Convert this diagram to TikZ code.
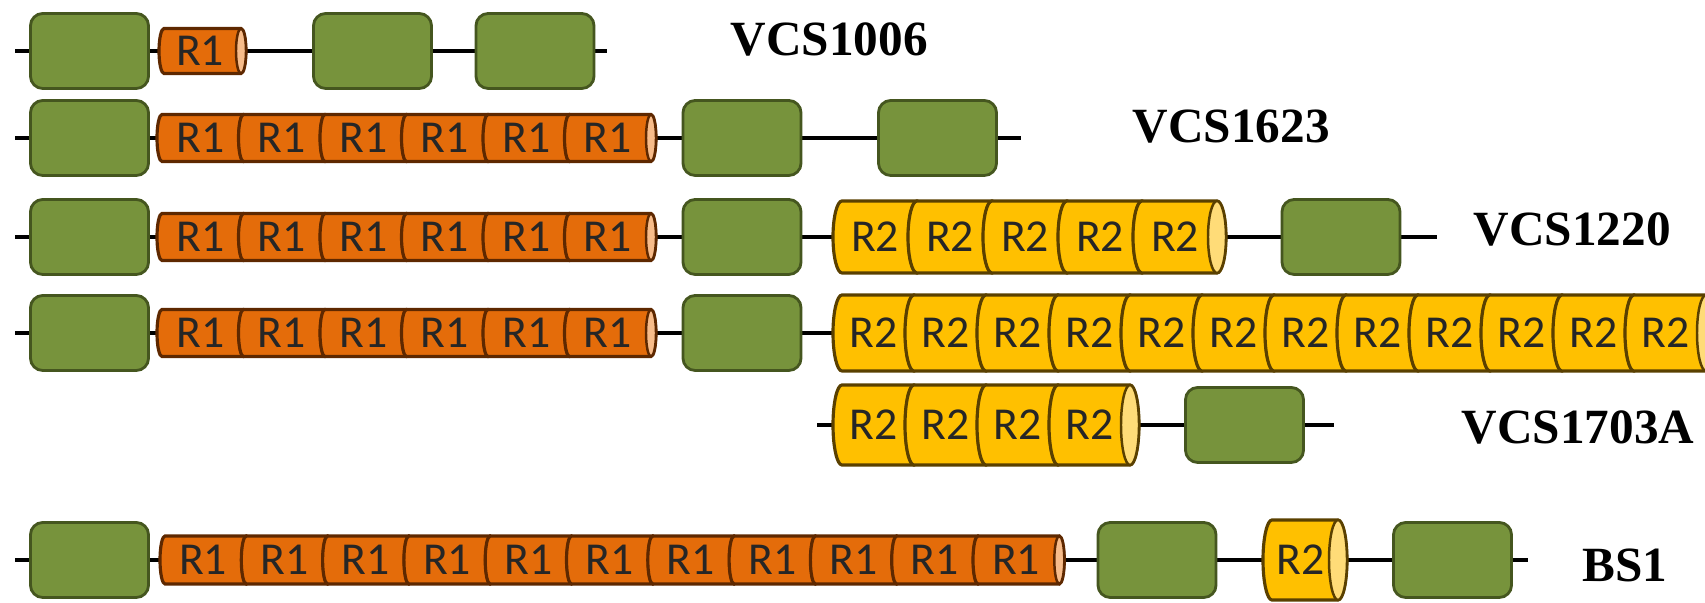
\documentclass[tikz,border=0pt]{standalone}
\usepackage{fontspec}
\setmainfont{Liberation Serif}
\newfontfamily\calfont{Carlito}
\usetikzlibrary{positioning}

\definecolor{exongreen}{HTML}{77933C}
\definecolor{exonedge}{HTML}{45561F}
\definecolor{ronefill}{HTML}{E46C0A}
\definecolor{roneedge}{HTML}{5E2800}
\definecolor{ronelight}{HTML}{F7BC8A}
\definecolor{rtwofill}{HTML}{FFC000}
\definecolor{rtwoedge}{HTML}{5A4000}
\definecolor{rtwolight}{HTML}{FFDC78}

\tikzset{
  exon/.style={draw=exonedge, fill=exongreen, line width=0.8pt, rounded corners=3.5pt,
    minimum width=1.18cm, minimum height=0.75cm, inner sep=0pt},
  backbone/.style={line width=1pt, black},
  rone/.style={draw=roneedge, fill=ronefill, line width=0.9pt},
  ronecap/.style={draw=roneedge, fill=ronelight, line width=0.7pt},
  rtwo/.style={draw=rtwoedge, fill=rtwofill, line width=0.9pt},
  rtwocap/.style={draw=rtwoedge, fill=rtwolight, line width=0.7pt},
  rlabel/.style={font=\calfont\fontsize{13}{13}\selectfont, inner sep=0pt, text=black!85},
  seqname/.style={font=\bfseries\fontsize{14}{14}\selectfont, anchor=west, inner sep=0pt}
}

% one repeat unit, lying on its side with its end cap to the right
% #1 style, #2 left x, #3 length, #4 half height, #5 cap radius, #6 name, #7 text
\newcommand{\repunit}[7]{%
  \draw[#1] ({#2+#5},#4) -- ({#2+#3-#5},#4)
    arc[start angle=90, end angle=-90, x radius=#5, y radius=#4]
    -- ({#2+#5},-#4)
    arc[start angle=270, end angle=90, x radius=#5, y radius=#4] -- cycle;
  \draw[#1cap] ({#2+#3-#5},0) ellipse[x radius=#5, y radius=#4];
  \node[rlabel] (#6) at ({#2+#3/2-#5/2},0) {#7};
}

\begin{document}
\begin{tikzpicture}[x=0.01cm, y=0.01cm]
  \useasboundingbox (0,0) rectangle (1705,603);

  % VCS1006
  \begin{scope}[shift={(0,552)}]
    \coordinate (va-s) at (15,0);
    \coordinate (va-t) at (607,0);
    \draw[backbone] (va-s) -- (va-t);
    \node[exon] (va-e1) at (89.5,0) {};
    \repunit{rone}{159}{87}{22.5}{5}{va-r0}{R1}
    \node[exon] (va-e2) at (372.5,0) {};
    \node[exon] (va-e3) at (535,0) {};
    \node[seqname] (va-name) at (730,11) {VCS1006};
  \end{scope}

  % VCS1623
  \begin{scope}[shift={(0,465)}]
    \coordinate (vb-s) at (15,0);
    \coordinate (vb-t) at (1021,0);
    \draw[backbone] (vb-s) -- (vb-t);
    \node[exon] (vb-e1) at (89.5,0) {};
    \foreach \i in {0,...,5}
      \repunit{rone}{157+\i*81.5}{91.5}{23.5}{5}{vb-r\i}{R1};
    \node[exon] (vb-e2) at (742,0) {};
    \node[exon] (vb-e3) at (937.5,0) {};
    \node[seqname] (vb-name) at (1132,11) {VCS1623};
  \end{scope}

  % VCS1220
  \begin{scope}[shift={(0,366)}]
    \coordinate (vc-s) at (15,0);
    \coordinate (vc-t) at (1437,0);
    \draw[backbone] (vc-s) -- (vc-t);
    \node[exon] (vc-e1) at (89.5,0) {};
    \foreach \i in {0,...,5}
      \repunit{rone}{157+\i*81.5}{91.5}{23.5}{5}{vc-r\i}{R1};
    \node[exon] (vc-e2) at (742,0) {};
    \foreach \i in {0,...,4}
      \repunit{rtwo}{833+\i*75}{93}{36}{9}{vc-q\i}{R2};
    \node[exon] (vc-e3) at (1341,0) {};
    \node[seqname] (vc-name) at (1473,7) {VCS1220};
  \end{scope}

  % VCS1703A, first part
  \begin{scope}[shift={(0,270)}]
    \coordinate (vd-s) at (15,0);
    \coordinate (vd-t) at (833,0);
    \draw[backbone] (vd-s) -- (vd-t);
    \node[exon] (vd-e1) at (89.5,0) {};
    \foreach \i in {0,...,5}
      \repunit{rone}{157+\i*81.5}{91.5}{23.5}{5}{vd-r\i}{R1};
    \node[exon] (vd-e2) at (742,0) {};
    \foreach \i in {0,...,11}
      \repunit{rtwo}{833+\i*72}{90}{38}{9}{vd-q\i}{R2};
  \end{scope}

  % VCS1703A, second part
  \begin{scope}[shift={(0,178)}]
    \coordinate (ve-s) at (817,0);
    \coordinate (ve-t) at (1334,0);
    \draw[backbone] (ve-s) -- (ve-t);
    \foreach \i in {0,...,3}
      \repunit{rtwo}{833+\i*72}{90}{40}{9}{ve-q\i}{R2};
    \node[exon] (ve-e1) at (1244.5,0) {};
    \node[seqname] (ve-name) at (1461,-3) {VCS1703A};
  \end{scope}

  % BS1
  \begin{scope}[shift={(0,43)}]
    \coordinate (bs-s) at (15,0);
    \coordinate (bs-t) at (1528,0);
    \draw[backbone] (bs-s) -- (bs-t);
    \node[exon] (bs-e1) at (89.5,0) {};
    \foreach \i in {0,...,10}
      \repunit{rone}{160+\i*81.3}{91.3}{24}{5}{bs-r\i}{R1};
    \node[exon] (bs-e2) at (1157,0) {};
    \repunit{rtwo}{1263}{84}{40}{9}{bs-q0}{R2}
    \node[exon] (bs-e3) at (1452.5,0) {};
    \node[seqname] (bs-name) at (1582,-5) {BS1};
  \end{scope}
\end{tikzpicture}
\end{document}
